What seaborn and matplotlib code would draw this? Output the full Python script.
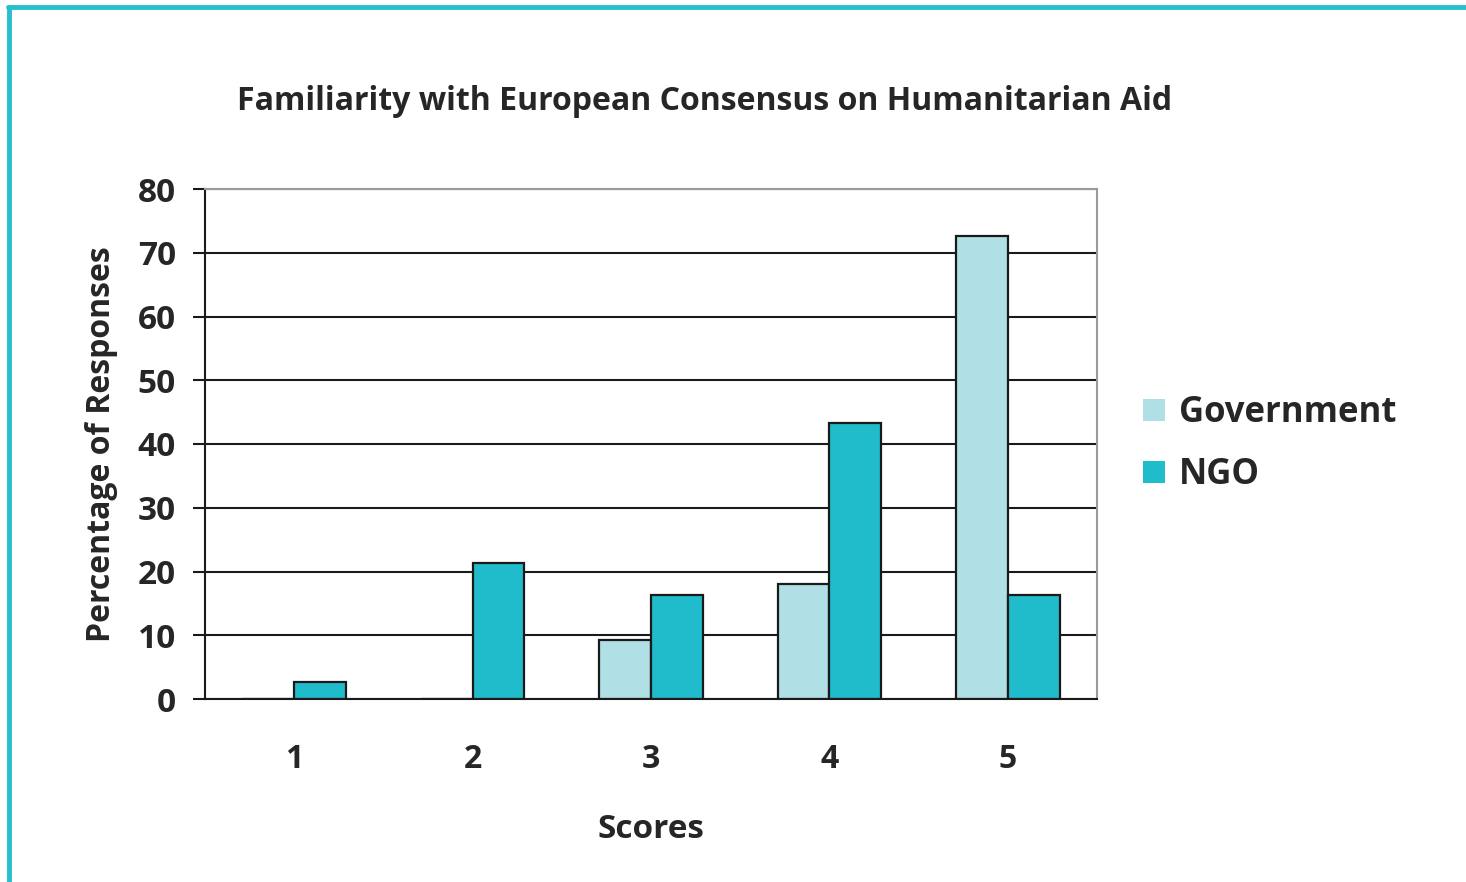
import pandas as pd
import numpy as np
import matplotlib.pyplot as plt
import seaborn as sns
from matplotlib.lines import Line2D
from matplotlib.patches import Patch

sns.set_style('white')
plt.rcParams['font.family'] = ['Open Sans', 'DejaVu Sans']
plt.rcParams['font.weight'] = 'bold'

scores = ['1', '2', '3', '4', '5']
government = [0, 0, 9.3, 18.0, 72.6]
ngo = [2.7, 21.4, 16.3, 43.3, 16.3]
groups = ['Government', 'NGO']
colors = ['#b0dfe5', '#20bccb']

df = pd.DataFrame({
    'Scores': scores * 2,
    'Percent': government + ngo,
    'Group': ['Government'] * 5 + ['NGO'] * 5,
})

fig = plt.figure(figsize=(14.66, 8.82), dpi=100)
ax = fig.add_axes([205/1466, 1 - 699/882, 892/1466, 510/882])

sns.barplot(data=df, x='Scores', y='Percent', hue='Group', palette=colors, saturation=1,
            width=0.58, edgecolor='#1a1a1a', linewidth=1.6, ax=ax, legend=False)

ax.set_ylim(0, 80)
ax.set_xlim(-0.5, 4.5)
ax.set_yticks(range(0, 81, 10))
ax.yaxis.grid(True, color='#1a1a1a', linewidth=1.5)
ax.set_axisbelow(True)

# category separators as minor ticks
ax.set_xticks(np.arange(-0.5, 5, 1), minor=True)
ax.tick_params(axis='x', which='minor', length=10, width=1.5, direction='out', color='#1a1a1a')
ax.tick_params(axis='x', which='major', length=0, pad=32, labelsize=23)
ax.tick_params(axis='y', length=9, width=1.5, direction='out', color='#1a1a1a', pad=12, labelsize=24, left=True)

for s in ['left', 'bottom']:
    ax.spines[s].set_color('#1a1a1a')
    ax.spines[s].set_linewidth(1.5)
for s in ['top', 'right']:
    ax.spines[s].set_color('#9a9a9a')
    ax.spines[s].set_linewidth(1.5)

ax.set_xlabel('Scores', fontsize=24, fontweight='bold', labelpad=26)
ax.set_ylabel('Percentage of Responses', fontsize=23, fontweight='bold', labelpad=14)

fig.text(705/1466, 1 - 101/882, 'Familiarity with European Consensus on Humanitarian Aid',
         ha='center', va='center', fontsize=23, fontweight='bold')

handles = [Patch(facecolor=c, edgecolor='none', label=g) for c, g in zip(colors, groups)]
fig.legend(handles=handles, loc='center left', bbox_to_anchor=(1112/1466, 1 - 444/882),
           frameon=False, handlelength=0.62, handleheight=0.62,
           handletextpad=0.4, labelspacing=0.75, prop={'weight': 'bold', 'size': 25})

# cyan page frame
fig.add_artist(Line2D([8/1466, 1], [1 - 7/882, 1 - 7/882], color='#26bfcd', linewidth=3.5, transform=fig.transFigure))
fig.add_artist(Line2D([9/1466, 9/1466], [0, 1 - 7/882], color='#26bfcd', linewidth=3.5, transform=fig.transFigure))

fig.savefig('out.png', dpi=100)
